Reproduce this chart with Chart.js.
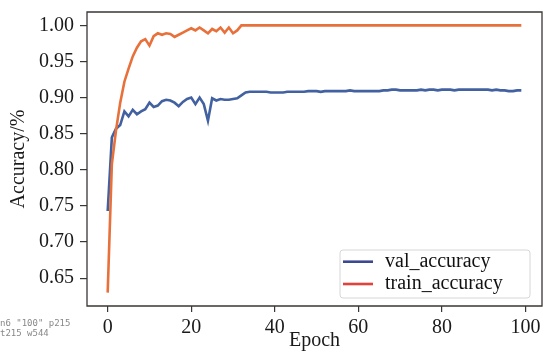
<!DOCTYPE html>
<html>
<head>
<meta charset="utf-8">
<script src="https://cdn.jsdelivr.net/npm/chart.js@4/dist/chart.umd.min.js"></script>
<style>
html,body{margin:0;padding:0;background:#ffffff;}
canvas{display:block;}
#dbg{position:absolute;left:0px;top:318px;width:84px;font:9px monospace;line-height:10px;color:#888;}
</style>
</head>
<body>
<canvas id="c" width="544" height="363"></canvas>
<div id="dbg"></div>
<script>
// ---- data ----
const seriesNames = ['val_accuracy', 'train_accuracy'];

const valAccuracy = [
  0.743, 0.845, 0.857, 0.862, 0.881, 0.874, 0.883, 0.877, 0.881, 0.884,
  0.893, 0.887, 0.889, 0.895, 0.897, 0.896, 0.893, 0.888, 0.894, 0.898,
  0.900, 0.891, 0.900, 0.891, 0.868, 0.899, 0.896, 0.898, 0.897, 0.897,
  0.898, 0.899, 0.903, 0.907, 0.908, 0.908, 0.908, 0.908, 0.908, 0.907,
  0.907, 0.907, 0.907, 0.908, 0.908, 0.908, 0.908, 0.908, 0.909, 0.909,
  0.909, 0.908, 0.909, 0.909, 0.909, 0.909, 0.909, 0.909, 0.910, 0.909,
  0.909, 0.909, 0.909, 0.909, 0.909, 0.909, 0.910, 0.910, 0.911, 0.911,
  0.910, 0.910, 0.910, 0.910, 0.910, 0.911, 0.910, 0.911, 0.911, 0.910,
  0.911, 0.911, 0.911, 0.910, 0.911, 0.911, 0.911, 0.911, 0.911, 0.911,
  0.911, 0.911, 0.910, 0.911, 0.910, 0.910, 0.909, 0.909, 0.910, 0.910
];

const trainAccuracy = [
  0.630, 0.808, 0.855, 0.893, 0.922, 0.940, 0.957, 0.969, 0.978, 0.981,
  0.972, 0.985, 0.989, 0.987, 0.989, 0.988, 0.984, 0.987, 0.990, 0.993,
  0.996, 0.993, 0.997, 0.993, 0.989, 0.995, 0.992, 0.997, 0.990, 0.997,
  0.989, 0.993, 1.000, 1.000, 1.000, 1.000, 1.000, 1.000, 1.000, 1.000,
  1.000, 1.000, 1.000, 1.000, 1.000, 1.000, 1.000, 1.000, 1.000, 1.000,
  1.000, 1.000, 1.000, 1.000, 1.000, 1.000, 1.000, 1.000, 1.000, 1.000,
  1.000, 1.000, 1.000, 1.000, 1.000, 1.000, 1.000, 1.000, 1.000, 1.000,
  1.000, 1.000, 1.000, 1.000, 1.000, 1.000, 1.000, 1.000, 1.000, 1.000,
  1.000, 1.000, 1.000, 1.000, 1.000, 1.000, 1.000, 1.000, 1.000, 1.000,
  1.000, 1.000, 1.000, 1.000, 1.000, 1.000, 1.000, 1.000, 1.000, 1.000
];

const xTicks = [0, 20, 40, 60, 80, 100];
const xTickLabels = ['0', '20', '40', '60', '80', '100'];
const yTicks = [0.65, 0.70, 0.75, 0.80, 0.85, 0.90, 0.95, 1.00];
const yTickLabels = ['0.65', '0.70', '0.75', '0.80', '0.85', '0.90', '0.95', '1.00'];
const xTitle = 'Epoch';
const yTitle = 'Accuracy/%';

// ---- styling ----
const lineColors = ['#4261a0', '#e8703a'];
const legendColors = ['#3d4893', '#e2423d'];
const FONT = '"Liberation Serif", "Times New Roman", serif';
const AXIS_COLOR = '#3a3633';

const toPoints = arr => arr.map((v, i) => ({ x: i, y: v }));

const frameAndLegend = {
  id: 'frameAndLegend',
  afterDraw(chart) {
    const ctx = chart.ctx;
    const a = chart.chartArea;
    ctx.save();
    ctx.strokeStyle = AXIS_COLOR;
    ctx.lineWidth = 1.3;
    ctx.beginPath();
    ctx.rect(a.left, a.top, a.right - a.left, a.bottom - a.top);
    ctx.stroke();

    const w = 190, h = 48;
    const x0 = a.right - 202, y0 = a.bottom - 56;
    const r = 3;
    ctx.beginPath();
    ctx.moveTo(x0 + r, y0);
    ctx.lineTo(x0 + w - r, y0);
    ctx.quadraticCurveTo(x0 + w, y0, x0 + w, y0 + r);
    ctx.lineTo(x0 + w, y0 + h - r);
    ctx.quadraticCurveTo(x0 + w, y0 + h, x0 + w - r, y0 + h);
    ctx.lineTo(x0 + r, y0 + h);
    ctx.quadraticCurveTo(x0, y0 + h, x0, y0 + h - r);
    ctx.lineTo(x0, y0 + r);
    ctx.quadraticCurveTo(x0, y0, x0 + r, y0);
    ctx.closePath();
    ctx.fillStyle = '#ffffff';
    ctx.fill();
    ctx.strokeStyle = '#d6d6d6';
    ctx.lineWidth = 1;
    ctx.stroke();

    const rows = [y0 + 11.7, y0 + 34];
    ctx.font = '20px ' + FONT;
    ctx.textAlign = 'left';
    ctx.textBaseline = 'middle';
    chart.data.datasets.forEach((ds, i) => {
      const yy = rows[i];
      ctx.strokeStyle = legendColors[i];
      ctx.lineWidth = 2.6;
      ctx.beginPath();
      ctx.moveTo(x0 + 3, yy);
      ctx.lineTo(x0 + 33, yy);
      ctx.stroke();
      ctx.fillStyle = '#111111';
      ctx.fillText(ds.label, x0 + 45, yy);
    });
    ctx.restore();
  }
};

const ch = new Chart(document.getElementById('c'), {
  type: 'line',
  data: {
    datasets: [
      {
        label: seriesNames[0],
        data: toPoints(valAccuracy),
        borderColor: lineColors[0],
        backgroundColor: lineColors[0],
        borderWidth: 2.6,
        pointRadius: 0,
        tension: 0,
        order: 1
      },
      {
        label: seriesNames[1],
        data: toPoints(trainAccuracy),
        borderColor: lineColors[1],
        backgroundColor: lineColors[1],
        borderWidth: 2.6,
        pointRadius: 0,
        tension: 0,
        order: 0
      }
    ]
  },
  options: {
    responsive: false,
    animation: false,
    devicePixelRatio: 1,
    layout: { padding: { top: 12, right: 2, left: 0, bottom: 0 } },
    plugins: {
      legend: { display: false },
      tooltip: { enabled: false }
    },
    scales: {
      x: {
        type: 'linear',
        min: -4.95,
        max: 103.95,
        afterBuildTicks: s => { s.ticks = xTicks.map(v => ({ value: v })); },
        afterFit: s => { s.height = 57; s.paddingLeft = 0; s.paddingRight = 0; },
        border: { display: false },
        grid: { display: true, drawOnChartArea: false, drawTicks: true, tickLength: 6, color: AXIS_COLOR, lineWidth: 1.2 },
        ticks: {
          color: '#1a1a1a',
          font: { family: FONT, size: 20 },
          padding: 4,
          maxRotation: 0,
          autoSkip: false,
          callback: (v) => { const i = xTicks.indexOf(v); return i >= 0 ? xTickLabels[i] : ''; }
        },
        title: {
          display: true,
          text: xTitle,
          color: '#1a1a1a',
          font: { family: FONT, size: 20 },
          padding: { top: 0, bottom: 10 }
        }
      },
      y: {
        type: 'linear',
        min: 0.6115,
        max: 1.0185,
        afterBuildTicks: s => { s.ticks = yTicks.map(v => ({ value: v })); },
        afterFit: s => { s.width = 87; s.paddingTop = 0; s.paddingBottom = 0; },
        border: { display: false },
        grid: { display: true, drawOnChartArea: false, drawTicks: true, tickLength: 7, color: AXIS_COLOR, lineWidth: 1.2 },
        ticks: {
          color: '#1a1a1a',
          font: { family: FONT, size: 20 },
          padding: 6,
          autoSkip: false,
          callback: (v) => { const i = yTicks.findIndex(t => Math.abs(t - v) < 1e-9); return i >= 0 ? yTickLabels[i] : ''; }
        },
        title: {
          display: true,
          text: yTitle,
          color: '#1a1a1a',
          font: { family: FONT, size: 20 },
          padding: { top: 7, bottom: 0 }
        }
      }
    }
  },
  plugins: [frameAndLegend]
});

function darkCount() {
  const d = ch.ctx.getImageData(506, 314, 38, 26).data;
  let n = 0;
  for (let i = 0; i < d.length; i += 4) if (d[i + 3] > 0 && d[i] < 128) n++;
  return n;
}
const items = ch.scales.x._labelItems || [];
const info0 = 'n' + items.length + ' ' + (items.length ? JSON.stringify(items[items.length - 1].label) : '-') + ' p' + darkCount();
document.getElementById('dbg').textContent = info0;
setTimeout(() => { document.getElementById('dbg').textContent = info0 + ' t' + darkCount() + ' w' + ch.width; }, 300);
</script>
</body>
</html>
